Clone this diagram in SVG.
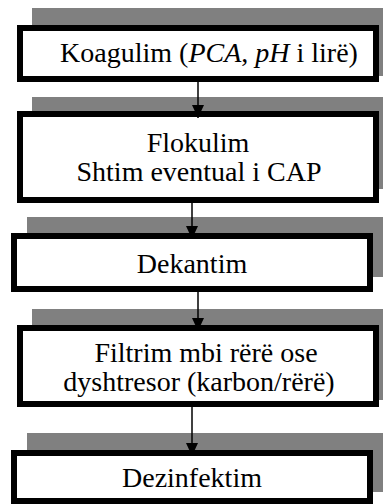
<svg xmlns="http://www.w3.org/2000/svg" width="383" height="504" viewBox="0 0 383 504">
  <defs>
    <style>
      .shadow { fill: #808080; stroke: none; }
      .box { fill: #ffffff; stroke: #000000; stroke-width: 6; }
      .label { font-family: 'Liberation Serif', 'Times New Roman', serif; font-size: 28px; fill: #000000; text-anchor: middle; }
      .link { stroke: #000000; stroke-width: 1.5; fill: none; }
    </style>
    <marker id="arrow" markerUnits="userSpaceOnUse" markerWidth="13" markerHeight="12" viewBox="0 0 13 12" refX="13" refY="6" orient="auto">
      <path d="M0,0 L13,6 L0,12 Z" fill="#000000"/>
    </marker>
  </defs>

  <rect width="383" height="504" fill="#ffffff"/>

  <!-- step 1 -->
  <g id="koagulim">
    <rect class="shadow" x="32" y="8" width="351" height="68"/>
    <rect class="box" x="20" y="28" width="356" height="51"/>
    <text class="label" x="209" y="62">Koagulim (<tspan font-style="italic">PCA</tspan>, <tspan font-style="italic">pH</tspan> i lirë)</text>
  </g>

  <!-- step 2 -->
  <g id="flokulim">
    <rect class="shadow" x="32" y="97" width="351" height="92"/>
    <rect class="box" x="20" y="114" width="356" height="86"/>
    <text class="label" x="198" y="152">Flokulim</text>
    <text class="label" x="199" y="181">Shtim eventual i CAP</text>
  </g>

  <!-- step 3 -->
  <g id="dekantim">
    <rect class="shadow" x="27" y="217" width="356" height="60"/>
    <rect class="box" x="14" y="236" width="356" height="53"/>
    <text class="label" x="192" y="273">Dekantim</text>
  </g>

  <!-- step 4 -->
  <g id="filtrim">
    <rect class="shadow" x="32" y="309" width="351" height="91"/>
    <rect class="box" x="20" y="328" width="356" height="76"/>
    <text class="label" x="206" y="362">Filtrim mbi rërë ose</text>
    <text class="label" x="199" y="391">dyshtresor (karbon/rërë)</text>
  </g>

  <!-- step 5 -->
  <g id="dezinfektim">
    <rect class="shadow" x="27" y="433" width="356" height="59"/>
    <rect class="box" x="14" y="453" width="356" height="48"/>
    <text class="label" x="192" y="487">Dezinfektim</text>
  </g>

  <!-- connectors -->
  <g id="connectors">
    <path class="link" d="M198,82 L198,118" marker-end="url(#arrow)"/>
    <path class="link" d="M192,203 L192,239" marker-end="url(#arrow)"/>
    <path class="link" d="M198,292 L198,331" marker-end="url(#arrow)"/>
    <path class="link" d="M192,407 L192,456" marker-end="url(#arrow)"/>
  </g>
</svg>
